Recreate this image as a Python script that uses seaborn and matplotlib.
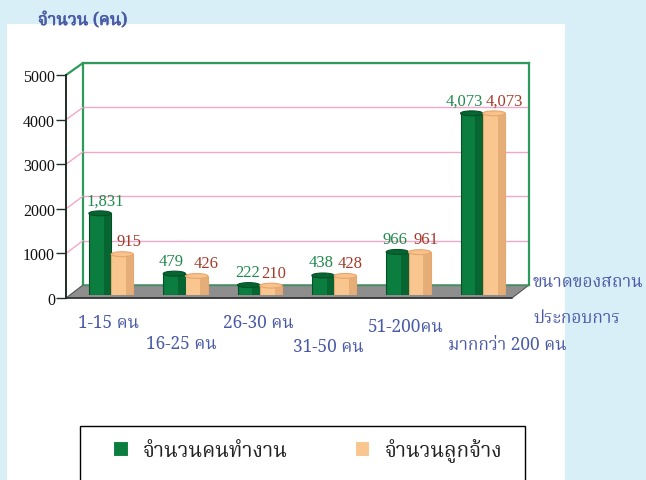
import matplotlib
matplotlib.use("Agg")
import numpy as np
import pandas as pd
import seaborn as sns
import matplotlib.pyplot as plt
from matplotlib import font_manager, transforms
from matplotlib import patheffects as pe
from matplotlib.patches import Polygon, Rectangle, Ellipse
from matplotlib.lines import Line2D
from matplotlib.ft2font import FT2Font

# ---------------- data ----------------
categories = ["1-15 คน", "16-25 คน", "26-30 คน", "31-50 คน", "51-200คน", "มากกว่า 200 คน"]
series_names = ["จำนวนคนทำงาน", "จำนวนลูกจ้าง"]
workers = [1831, 479, 222, 438, 966, 4073]
employees = [915, 426, 210, 428, 961, 4073]
y_ticks = [0, 1000, 2000, 3000, 4000, 5000]
title_text = "จำนวน (คน)"
xlabel_lines = ["ขนาดของสถาน", "ประกอบการ"]

# ---------------- fonts ----------------
def find_thai_family():
    found = []
    for f in font_manager.fontManager.ttflist:
        try:
            cmap = FT2Font(f.fname).get_charmap()
        except Exception:
            continue
        if 0x0E08 in cmap and 0x0E19 in cmap and 0x0E33 in cmap:
            found.append(f.name)
    prefs = ["Noto Serif Thai", "Norasi", "TH Sarabun New", "Sarabun", "Loma",
             "Garuda", "Noto Sans Thai", "Kinnari", "Laksaman"]
    for p in prefs:
        if p in found:
            return p
    return found[0] if found else None

sns.set_theme(style="white")
THAI = find_thai_family()
SERIF = "Liberation Serif"
thai_fam = [THAI, SERIF, "DejaVu Sans"] if THAI else [SERIF, "DejaVu Sans"]
plt.rcParams["font.family"] = thai_fam

BG = "#d9eff7"
GREEN = "#0b7d3e"
GREEN_DARK = "#066530"
ORANGE = "#f9c68f"
ORANGE_DARK = "#e5ad78"
PINK = "#f2a9c9"
WALL_GREEN = "#2f9a5c"
BLUE = "#4a5aa6"
LBL_GREEN = "#1f8a4c"
LBL_RED = "#a63a2a"

W, H = 646, 481
fig = plt.figure(figsize=(W / 100, H / 100), dpi=100, facecolor=BG)

# white panel
fig.patches.append(Rectangle((7 / W, 0), 558 / W, (H - 25) / H, transform=fig.transFigure,
                             facecolor="white", edgecolor="none", zorder=-10))

def px_axes(x0, ytop, x1, ybot, z):
    return fig.add_axes([x0 / W, 1 - ybot / H, (x1 - x0) / W, (ybot - ytop) / H], zorder=z)

ax_back = px_axes(83, 64, 529, 286, 1)
ax = px_axes(66, 76, 512, 299, 2)
ax_bar = px_axes(74, 73, 520, 296, 3)

n = len(categories)
for a in (ax_back, ax, ax_bar):
    a.set_xlim(-0.5, n - 0.5)
    a.set_ylim(0, y_ticks[-1])

# back wall
ax_back.set_facecolor("white")
ax_back.set_yticks(y_ticks)
ax_back.set_xticks([])
ax_back.tick_params(left=False, labelleft=False)
ax_back.grid(axis="y", color=PINK, lw=1.0)
for s in ["left", "right", "top"]:
    ax_back.spines[s].set_visible(True)
    ax_back.spines[s].set_color(WALL_GREEN)
    ax_back.spines[s].set_linewidth(1.6)
ax_back.spines["bottom"].set_visible(False)

to_fig = fig.transFigure.inverted()
def fpt(a, x, y):
    return to_fig.transform(a.transData.transform((x, y)))

# floor
floor = Polygon([fpt(ax, -0.5, 0), fpt(ax, n - 0.5, 0), fpt(ax_back, n - 0.5, 0), fpt(ax_back, -0.5, 0)],
                closed=True, transform=fig.transFigure, facecolor="#8e8e8e", edgecolor="#555555",
                lw=0.8, zorder=1.5)
fig.patches.append(floor)
fig.lines.append(Line2D(*zip(fpt(ax, -0.5, 0), fpt(ax, n - 0.5, 0)), transform=fig.transFigure,
                        color="#333333", lw=1.2, zorder=1.6))
fig.lines.append(Line2D(*zip(fpt(ax_back, -0.5, 0), fpt(ax_back, n - 0.5, 0)), transform=fig.transFigure,
                        color=WALL_GREEN, lw=1.0, zorder=1.6))
for v in y_ticks[1:]:
    c = WALL_GREEN if v == y_ticks[-1] else PINK
    lw = 1.6 if v == y_ticks[-1] else 1.0
    p0, p1 = fpt(ax, -0.5, v), fpt(ax_back, -0.5, v)
    fig.lines.append(Line2D([p0[0], p1[0]], [p0[1], p1[1]], transform=fig.transFigure,
                            color=c, lw=lw, zorder=1.4))

# front axis
ax.set_facecolor("none")
for s in ["right", "top", "bottom"]:
    ax.spines[s].set_visible(False)
ax.spines["left"].set_color("#1e2e24")
ax.spines["left"].set_linewidth(1.4)
ax.set_yticks(y_ticks)
ax.set_yticklabels([str(v) for v in y_ticks], family=[SERIF], fontsize=11.5, color="#111111")
ax.set_xticks([])
ax.tick_params(axis="y", left=True, length=7, width=1.0, color="#1e2e24", pad=1)

# bars
df = pd.DataFrame({
    "category": categories * 2,
    "series": [series_names[0]] * n + [series_names[1]] * n,
    "value": workers + employees,
})
sns.barplot(data=df, x="category", y="value", hue="series", order=categories,
            hue_order=series_names, palette=[GREEN, ORANGE], saturation=1, width=0.6,
            ax=ax_bar, linewidth=0.8)
ax_bar.set_xlim(-0.5, n - 0.5)
ax_bar.set_ylim(0, y_ticks[-1])
ax_bar.axis("off")
ax_bar.patch.set_alpha(0)

handles, labels = ax_bar.get_legend_handles_labels()
if ax_bar.get_legend() is not None:
    ax_bar.get_legend().remove()

styles = [(GREEN, GREEN_DARK, "#054f26", LBL_GREEN), (ORANGE, ORANGE_DARK, "#e8a66c", LBL_RED)]
vals = [workers, employees]
label_dx = [[5, -3, -1, -2, -2, -7], [7, 9, 3, 5, 6, 10]]
for ci, cont in enumerate(ax_bar.containers):
    face, shade, edge, lc = styles[ci]
    for j, p in enumerate(cont):
        p.set_edgecolor(edge)
        x, w, h = p.get_x(), p.get_width(), p.get_height()
        ax_bar.add_patch(Rectangle((x + 0.66 * w, 0), 0.34 * w, h, facecolor=shade,
                                   edgecolor="none", zorder=p.get_zorder() + 0.1))
        ax_bar.add_patch(Ellipse((x + w / 2, h), w, 110, facecolor=shade if ci == 0 else "#f7c28c",
                                 edgecolor=edge, lw=0.8, zorder=p.get_zorder() + 0.2))
        tr = transforms.offset_copy(ax_bar.transData, fig=fig, x=label_dx[ci][j], y=9, units="dots")
        ax_bar.text(x + w / 2, h, f"{vals[ci][j]:,}", transform=tr, ha="center", va="baseline",
                    color=lc, fontsize=12, family=[SERIF], zorder=6)

# category labels (staggered)
x_shift = [-3, -4, -1, -6, -3, 24]
y_rows = [-27, -48, -27, -51, -31, -49]
for i, cat in enumerate(categories):
    tr = transforms.offset_copy(ax_bar.transData, fig=fig, x=x_shift[i], y=y_rows[i], units="dots")
    ax_bar.text(i, 0, cat, transform=tr, ha="center", va="center", fontsize=12.5,
                color=BLUE, clip_on=False)

# axis title and x-axis label
fig.text(38 / W, 1 - 21 / H, title_text, ha="left", va="center", fontsize=12.5,
         fontweight="bold", color=BLUE,
         path_effects=[pe.withStroke(linewidth=0.5, foreground=BLUE)])
fig.text(533 / W, 1 - 282 / H, xlabel_lines[0], ha="left", va="center", fontsize=12.5, color=BLUE)
fig.text(533 / W, 1 - 318 / H, xlabel_lines[1], ha="left", va="center", fontsize=12.5, color=BLUE)

# legend (frame drawn as a box that runs off the bottom edge)
fig.patches.append(Rectangle((80 / W, -10 / H), 445 / W, (H - 427 + 10) / H, transform=fig.transFigure,
                             facecolor="white", edgecolor="black", lw=1.0, zorder=4))
leg = fig.legend(handles, labels, loc="center left", ncol=2,
                 bbox_to_anchor=(113 / W, 1 - 451 / H),
                 frameon=False, fontsize=15, handlelength=0.7, handleheight=0.7,
                 handletextpad=0.75, columnspacing=3.2, borderpad=0, borderaxespad=0)
leg.set_zorder(5)
for t in leg.get_texts():
    t.set_color("#222222")

fig.savefig("out.png", dpi=100, facecolor=BG)
